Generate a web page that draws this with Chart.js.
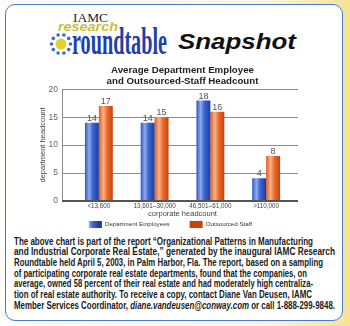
<!DOCTYPE html>
<html><head><meta charset="utf-8">
<script src="https://cdn.jsdelivr.net/npm/chart.js@4.4.1/dist/chart.umd.min.js"></script>
<style>
html,body{margin:0;padding:0;}
body{width:350px;height:326px;overflow:hidden;position:relative;background:linear-gradient(to right,#fdfdfb 0%,#fbf6e2 75%,#f4e394 100%);}
#panel{position:absolute;left:5px;top:4px;width:338px;height:317px;box-sizing:border-box;border:1.5px solid #4a78d4;border-radius:10px;background:#fff;}
#deco{position:absolute;left:0;top:0;}
#c{position:absolute;left:0;top:58px;}
</style></head><body>
<div id="panel"></div>
<svg id="deco" width="350" height="326" xmlns="http://www.w3.org/2000/svg">
  <text x="73" y="21.5" font-family="Liberation Serif, serif" font-size="11.5" fill="#1b1b3a" textLength="35" lengthAdjust="spacingAndGlyphs">IAMC</text>
  <text x="58" y="30.5" font-family="Liberation Sans, sans-serif" font-weight="bold" font-style="italic" font-size="13" fill="#c8bf3a" textLength="60" lengthAdjust="spacingAndGlyphs">research</text>
  <g>
    <circle cx="61" cy="44" r="5.5" fill="#e6cf2a"/>
    <circle cx="70.5" cy="44" r="1.8" fill="#3a6ad0"/>
    <circle cx="68.7" cy="49.6" r="1.8" fill="#3a6ad0"/>
    <circle cx="63.9" cy="53" r="1.8" fill="#3a6ad0"/>
    <circle cx="58.1" cy="53" r="1.8" fill="#3a6ad0"/>
    <circle cx="53.3" cy="49.6" r="1.8" fill="#3a6ad0"/>
    <circle cx="51.5" cy="44" r="1.8" fill="#3a6ad0"/>
    <circle cx="53.3" cy="38.4" r="1.8" fill="#3a6ad0"/>
    <circle cx="58.1" cy="35" r="1.8" fill="#3a6ad0"/>
    <circle cx="63.9" cy="35" r="1.8" fill="#3a6ad0"/>
    <circle cx="68.7" cy="38.4" r="1.8" fill="#3a6ad0"/>
  </g>
  <text x="72" y="53.5" font-family="Liberation Serif, serif" font-weight="bold" font-size="38" fill="#1e3fae" textLength="95" lengthAdjust="spacingAndGlyphs">roundtable</text>
  <text x="178" y="49" font-family="Liberation Sans, sans-serif" font-weight="bold" font-style="italic" font-size="22" fill="#111" textLength="118" lengthAdjust="spacingAndGlyphs">Snapshot</text>
  <g font-family="Liberation Sans Narrow, Liberation Sans, sans-serif" font-weight="bold" font-size="10" fill="#1a1a1a">
    <text x="14" y="244.5" textLength="299" lengthAdjust="spacingAndGlyphs">The above chart is part of the report “Organizational Patterns in Manufacturing</text>
    <text x="14" y="255.2" textLength="321" lengthAdjust="spacingAndGlyphs">and Industrial Corporate Real Estate,” generated by the inaugural IAMC Research</text>
    <text x="14" y="265.8" textLength="309" lengthAdjust="spacingAndGlyphs">Roundtable held April 5, 2003, in Palm Harbor, Fla. The report, based on a sampling</text>
    <text x="14" y="276.5" textLength="293" lengthAdjust="spacingAndGlyphs">of participating  corporate real estate departments, found that the companies, on</text>
    <text x="14" y="287.2" textLength="299" lengthAdjust="spacingAndGlyphs">average, owned 58 percent of their real estate and had moderately high centraliza-</text>
    <text x="14" y="297.8" textLength="298" lengthAdjust="spacingAndGlyphs">tion of real estate authority. To receive a copy, contact Diane Van Deusen, IAMC</text>
    <text x="14" y="308.5" textLength="321" lengthAdjust="spacingAndGlyphs">Member Services Coordinator, <tspan font-style="italic">diane.vandeusen@conway.com</tspan> or call 1-888-299-9848.</text>
  </g>
</svg>
<canvas id="c" width="350" height="197"></canvas>
<script>
const categories = ['<13,600', '13,601–30,000', '46,501–61,000', '>110,000'];
const departmentEmployees = [14, 14, 18, 4];
const outsourcedStaff = [17, 15, 16, 8];
const yMin = 0, yMax = 20, yStep = 5;
const chartTitle = ['Average Department Employee', 'and Outsourced-Staff Headcount'];
const seriesNames = ['Department Employees', 'Outsourced Staff'];

const LEGEND_SHIFT = 17;
const blueStops = [[0,'#2a56c2'],[0.3,'#8fadeb'],[0.55,'#3d68d2'],[1,'#1c3c9e']];
const orangeStops = [[0,'#e05a1e'],[0.32,'#fab387'],[0.6,'#e96a2a'],[1,'#c9420e']];

function barFill(stops, side, solid){
  return (c) => {
    const ch = c.chart;
    if (c.dataIndex === undefined || !ch.chartArea || !ch.scales.x) return solid;
    const xs = ch.scales.x;
    const center = xs.getPixelForValue(c.dataIndex);
    const bw = xs.width / categories.length * 0.5 / 2;
    const left = side === 0 ? center - bw : center;
    const g = ch.ctx.createLinearGradient(left, 0, left + bw, 0);
    stops.forEach(s => g.addColorStop(s[0], s[1]));
    return g;
  };
}

const deco = {
  id: 'deco',
  afterLayout(chart){
    const l = chart.legend;
    if (l){ l.top -= LEGEND_SHIFT; l.bottom -= LEGEND_SHIFT; }
  },
  beforeDatasetsDraw(chart){
    const {ctx, chartArea:a, scales:{y}} = chart;
    const x0 = a.left - 9, x1 = a.right + 4;
    ctx.save();
    ctx.strokeStyle = '#8c8c8c'; ctx.lineWidth = 1;
    y.ticks.forEach(t => {
      if (t.value === yMin) return;
      const py = Math.round(y.getPixelForValue(t.value)) + 0.5;
      ctx.beginPath(); ctx.moveTo(x0, py); ctx.lineTo(x1, py); ctx.stroke();
    });
    ctx.beginPath();
    ctx.moveTo(Math.round(x0) + 0.5, y.getPixelForValue(yMax));
    ctx.lineTo(Math.round(x0) + 0.5, y.getPixelForValue(yMin));
    ctx.stroke();
    ctx.restore();
  },
  afterDatasetsDraw(chart){
    const {ctx, chartArea:a, scales:{y}} = chart;
    const x0 = a.left - 9, x1 = a.right + 4;
    ctx.save();
    ctx.strokeStyle = '#555'; ctx.lineWidth = 2;
    const py = y.getPixelForValue(yMin) + 0.5;
    ctx.beginPath(); ctx.moveTo(x0, py); ctx.lineTo(x1, py); ctx.stroke();
    ctx.font = '9px "Liberation Sans Narrow", "Liberation Sans", sans-serif';
    ctx.fillStyle = '#555';
    ctx.textAlign = 'center'; ctx.textBaseline = 'middle';
    chart.data.datasets.forEach((ds, di) => {
      chart.getDatasetMeta(di).data.forEach((el, i) => {
        ctx.fillText(String(ds.data[i]), el.x, el.y - 4.5);
      });
    });
    ctx.restore();
  }
};

new Chart(document.getElementById('c'), {
  type: 'bar',
  data: {
    labels: categories,
    datasets: [
      { label: seriesNames[0], data: departmentEmployees, backgroundColor: barFill(blueStops, 0, '#3d68d2'), borderWidth: 0 },
      { label: seriesNames[1], data: outsourcedStaff, backgroundColor: barFill(orangeStops, 1, '#e96a2a'), borderWidth: 0 }
    ]
  },
  options: {
    responsive: false,
    animation: false,
    events: [],
    layout: { padding: { left: 47, right: 56, top: 0, bottom: 0 } },
    datasets: { bar: { categoryPercentage: 0.5, barPercentage: 1 } },
    plugins: {
      tooltip: { enabled: false },
      title: {
        display: true, text: chartTitle, fullSize: false, color: '#222',
        font: { family: '"Liberation Sans", Arial, sans-serif', size: 9.7, weight: 'bold', lineHeight: 1.13 },
        padding: { top: 6.5, bottom: 3 }
      },
      legend: {
        position: 'bottom',
        labels: {
          boxWidth: 13, boxHeight: 7, padding: 20, color: '#333',
          font: { family: '"Liberation Sans Narrow", "Liberation Sans", sans-serif', size: 6.2 }
        }
      }
    },
    scales: {
      x: {
        grid: { display: false, drawTicks: false }, border: { display: false },
        ticks: { color: '#444', padding: 2, maxRotation: 0, autoSkip: false,
          font: { family: '"Liberation Sans Narrow", "Liberation Sans", sans-serif', size: 6.3 } },
        title: { display: true, text: 'corporate headcount', color: '#444', padding: { top: 0, bottom: 0 },
          font: { family: '"Liberation Sans", sans-serif', size: 7.5, lineHeight: 1.2 } },
        afterFit(s){ s.height = 17.5; }
      },
      y: {
        min: yMin, max: yMax,
        grid: { display: false, drawTicks: false }, border: { display: false },
        ticks: { stepSize: yStep, color: '#666', padding: 13,
          font: { family: '"Liberation Sans", sans-serif', size: 8.5 } },
        title: { display: true, text: 'department headcount', color: '#444', padding: { top: -8.5, bottom: 0 },
          font: { family: '"Liberation Sans", sans-serif', size: 7.5, lineHeight: 1.2 } },
        afterFit(s){ s.width = 24; }
      }
    }
  },
  plugins: [deco]
});
</script>
</body></html>
